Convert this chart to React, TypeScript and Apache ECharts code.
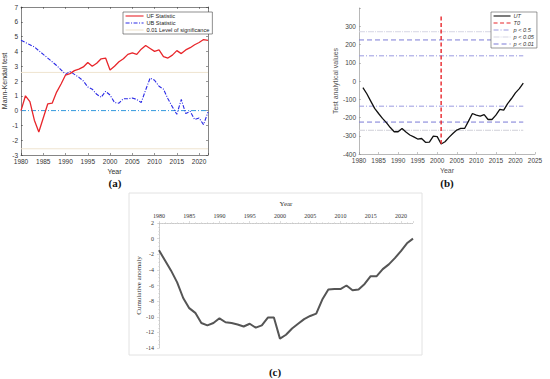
import React, { useEffect, useRef } from "react";
import * as echarts from "echarts";

// ---- (a) Mann-Kendall ----
const yearsA = [1980,1981,1982,1983,1984,1985,1986,1987,1988,1989,1990,1991,1992,1993,1994,1995,1996,1997,1998,1999,2000,2001,2002,2003,2004,2005,2006,2007,2008,2009,2010,2011,2012,2013,2014,2015,2016,2017,2018,2019,2020,2021,2022];
const ufValues = [0,1.0,0.6,-0.65,-1.45,-0.5,0.45,0.5,1.25,1.8,2.4,2.5,2.7,2.8,2.95,3.25,3.0,3.2,3.5,3.55,2.75,3.0,3.3,3.5,3.8,3.9,3.8,4.15,4.4,4.2,4.0,4.1,3.65,3.55,3.75,4.05,3.85,4.1,4.25,4.45,4.6,4.8,4.75];
const ubValues = [4.75,4.6,4.45,4.3,4.05,3.8,3.55,3.3,3.05,2.75,2.45,2.65,2.45,2.25,2.0,1.6,1.45,1.1,0.9,1.3,1.05,0.55,0.5,0.8,0.8,0.85,0.75,0.55,1.4,2.2,2.05,1.65,1.45,0.8,0.25,-0.25,0.75,-0.2,-0.05,-0.6,-0.5,-0.95,-0.1];
const levelA = 2.58;

// ---- (b) Pettitt ----
const yearsB = [1981,1982,1983,1984,1985,1986,1987,1988,1989,1990,1991,1992,1993,1994,1995,1996,1997,1998,1999,2000,2001,2002,2003,2004,2005,2006,2007,2008,2009,2010,2011,2012,2013,2014,2015,2016,2017,2018,2019,2020,2021,2022];
const utValues = [-36,-70,-110,-150,-178,-205,-228,-255,-278,-278,-260,-280,-296,-306,-318,-315,-336,-335,-302,-305,-345,-333,-309,-288,-269,-260,-260,-220,-178,-187,-193,-184,-211,-211,-187,-155,-160,-124,-96,-65,-42,-11];
const t0Year = 2001;
const t0Range = [-345, 355];
const pLevels = { p05: 138, p005: 270, p001: 225 };

// ---- (c) Cumulative anomaly ----
const yearsC = yearsA;
const cumValues = [-1.5,-2.8,-4.1,-5.6,-7.6,-8.9,-9.5,-10.8,-11.1,-10.8,-10.2,-10.7,-10.8,-11.0,-11.25,-10.9,-11.4,-11.1,-10.1,-10.1,-12.8,-12.3,-11.5,-10.9,-10.3,-9.9,-9.6,-7.8,-6.5,-6.45,-6.45,-6.0,-6.6,-6.5,-5.8,-4.8,-4.8,-3.9,-3.3,-2.5,-1.6,-0.6,0];

const pairs = (xs: number[], ys: number[]) => xs.map((x, i) => [x, ys[i]]);
const hline = (x0: number, x1: number, y: number) => [[x0, y], [x1, y]];

export default function App() {
  const ref = useRef<HTMLDivElement>(null);
  useEffect(() => {
    if (!ref.current) return;
    const chart = echarts.init(ref.current, null, { renderer: "svg" });
    const sans = "Liberation Sans, Arial, sans-serif";
    const serif = "Liberation Serif, Times New Roman, serif";
    const dashDot = [5, 2, 1, 2];
    const yearFmt = (v: number) => (v % 5 === 0 ? String(v) : "");
    const hiddenSym = { color: "rgba(0,0,0,0)", borderWidth: 0, opacity: 0 };
    const option: any = {
      animation: false,
      backgroundColor: "#fff",
      grid: [
        { left: 21, top: 7, width: 187, height: 148, outerBoundsMode: "none" },
        { left: 359, top: 8, width: 176, height: 146, outerBoundsMode: "none" },
        { left: 159, top: 223, width: 254, height: 125, outerBoundsMode: "none" },
      ],
      xAxis: [
        {
          gridIndex: 0, type: "value", min: 1980, max: 2022, interval: 5, position: "bottom",
          name: "Year", nameLocation: "middle", nameGap: 13,
          nameTextStyle: { fontSize: 7, color: "#333", fontFamily: sans },
          axisLine: { onZero: false, lineStyle: { color: "#333", width: 0.6 } },
          axisTick: { inside: true, length: 2, lineStyle: { color: "#333", width: 0.5 } },
          axisLabel: { fontSize: 6.5, color: "#333", fontFamily: sans, margin: 3, formatter: yearFmt },
          splitLine: { show: false },
        },
        {
          gridIndex: 0, type: "value", min: 1980, max: 2022, interval: 5, position: "top",
          axisLine: { onZero: false, lineStyle: { color: "#333", width: 0.6 } },
          axisTick: { inside: true, length: 2, lineStyle: { color: "#333", width: 0.5 } },
          axisLabel: { show: false }, splitLine: { show: false },
        },
        {
          gridIndex: 1, type: "value", min: 1980, max: 2025, interval: 5, position: "bottom",
          name: "Year", nameLocation: "middle", nameGap: 13,
          nameTextStyle: { fontSize: 7, color: "#555", fontFamily: sans },
          axisLine: { onZero: false, lineStyle: { color: "#888", width: 0.6 } },
          axisTick: { inside: true, length: 2, lineStyle: { color: "#888", width: 0.5 } },
          axisLabel: { fontSize: 6.5, color: "#444", fontFamily: sans, margin: 3, formatter: yearFmt },
          splitLine: { show: false },
        },
        {
          gridIndex: 2, type: "value", min: 1980, max: 2022, interval: 5, position: "top",
          name: "Year", nameLocation: "middle", nameGap: 16,
          nameTextStyle: { fontSize: 7, color: "#333", fontFamily: serif },
          axisLine: { onZero: false, lineStyle: { color: "#bbb", width: 0.8, type: "dotted" } },
          axisTick: { show: true, length: 2, lineStyle: { color: "#bbb", width: 0.5 } },
          minorTick: { show: true, splitNumber: 5, length: 1, lineStyle: { color: "#ccc", width: 0.5 } },
          axisLabel: { fontSize: 6, color: "#333", fontFamily: serif, margin: 4, formatter: yearFmt },
          splitLine: { show: false },
        },
      ],
      yAxis: [
        {
          gridIndex: 0, type: "value", min: -3, max: 7, interval: 1, position: "left",
          name: "Mann-Kendall test", nameLocation: "middle", nameGap: 9, nameRotate: 90,
          nameTextStyle: { fontSize: 7, color: "#333", fontFamily: sans },
          axisLine: { onZero: false, lineStyle: { color: "#333", width: 0.6 } },
          axisTick: { inside: true, length: 2, lineStyle: { color: "#333", width: 0.5 } },
          axisLabel: { fontSize: 6.5, color: "#333", fontFamily: sans, margin: 3 },
          splitLine: { show: false },
        },
        {
          gridIndex: 0, type: "value", min: -3, max: 7, interval: 1, position: "right",
          axisLine: { onZero: false, lineStyle: { color: "#333", width: 0.6 } },
          axisTick: { inside: true, length: 2, lineStyle: { color: "#333", width: 0.5 } },
          axisLabel: { show: false }, splitLine: { show: false },
        },
        {
          gridIndex: 1, type: "value", min: -400, max: 400, interval: 100, position: "left",
          name: "Test analytical values", nameLocation: "middle", nameGap: 17, nameRotate: 90,
          nameTextStyle: { fontSize: 7, color: "#555", fontFamily: sans },
          axisLine: { onZero: false, lineStyle: { color: "#888", width: 0.6 } },
          axisTick: { inside: true, length: 2, lineStyle: { color: "#888", width: 0.5 } },
          axisLabel: { fontSize: 6.5, color: "#444", fontFamily: sans, margin: 3,
            formatter: (v: number) => (v >= 400 ? "" : String(v)) },
          splitLine: { show: false },
        },
        {
          gridIndex: 2, type: "value", min: -14, max: 2, interval: 2, position: "left",
          name: "Cumulative anomaly", nameLocation: "middle", nameGap: 15, nameRotate: 90,
          nameTextStyle: { fontSize: 7, color: "#333", fontFamily: serif },
          axisLine: { onZero: false, lineStyle: { color: "#bbb", width: 0.8, type: "dotted" } },
          axisTick: { show: true, length: 2, lineStyle: { color: "#bbb", width: 0.5 } },
          minorTick: { show: true, splitNumber: 4, length: 1, lineStyle: { color: "#ccc", width: 0.5 } },
          axisLabel: { fontSize: 6, color: "#333", fontFamily: serif, margin: 5 },
          splitLine: { show: false },
        },
      ],
      legend: [
        {
          left: 123, top: 12, orient: "vertical", itemGap: 1, itemWidth: 18, itemHeight: 6,
          padding: [1, 3, 1, 2], borderColor: "#444", borderWidth: 0.6, backgroundColor: "#fff",
          itemStyle: hiddenSym, lineStyle: { width: 1.1 },
          textStyle: { fontSize: 5.6, color: "#222", fontFamily: sans, padding: [0, 0, 0, -2] },
          data: ["UF Statistic", "UB Statistic", "0.01 Level of significance"],
        },
        {
          left: 491, top: 12, orient: "vertical", itemGap: 1, itemWidth: 17, itemHeight: 6,
          padding: [1, 3, 1, 2], borderColor: "#555", borderWidth: 0.6, backgroundColor: "#fff",
          itemStyle: hiddenSym, lineStyle: { width: 1.1 },
          textStyle: { fontSize: 5.6, color: "#333", fontFamily: sans, fontStyle: "italic", padding: [0, 0, 0, -2] },
          data: ["UT", "T0", "p < 0.5", "p < 0.05", "p < 0.01"],
        },
      ],
      graphic: [
        { type: "rect", shape: { x: 129, y: 193, width: 293, height: 162 }, style: { fill: "none", stroke: "#e2e2e2", lineWidth: 1 } },
        { type: "text", x: 115, y: 183, style: { text: "(a)", fontSize: 11, fontWeight: "bold", fontFamily: serif, fill: "#111", align: "center", verticalAlign: "middle" } },
        { type: "text", x: 447, y: 183, style: { text: "(b)", fontSize: 11, fontWeight: "bold", fontFamily: serif, fill: "#111", align: "center", verticalAlign: "middle" } },
        { type: "text", x: 275, y: 372, style: { text: "(c)", fontSize: 11, fontWeight: "bold", fontFamily: serif, fill: "#111", align: "center", verticalAlign: "middle" } },
      ],
      series: [
        // (a)
        { name: "0.01 Level of significance", type: "line", xAxisIndex: 0, yAxisIndex: 0, symbol: "none",
          data: hline(1980, 2022, levelA), lineStyle: { color: "#efe4cf", width: 1 }, itemStyle: { color: "#efe4cf" } },
        { name: "0.01 Level of significance", type: "line", xAxisIndex: 0, yAxisIndex: 0, symbol: "none",
          data: hline(1980, 2022, -levelA), lineStyle: { color: "#efe4cf", width: 1 }, itemStyle: { color: "#efe4cf" } },
        { name: "zero", type: "line", xAxisIndex: 0, yAxisIndex: 0, symbol: "none",
          data: hline(1980, 2022, 0), lineStyle: { color: "#3399dd", width: 1, type: dashDot } },
        { name: "UB Statistic", type: "line", xAxisIndex: 0, yAxisIndex: 0, symbol: "none",
          data: pairs(yearsA, ubValues), lineStyle: { color: "#2a2ae6", width: 1.1, type: [4, 1.5, 1, 1.5] }, itemStyle: { color: "#2a2ae6" } },
        { name: "UF Statistic", type: "line", xAxisIndex: 0, yAxisIndex: 0, symbol: "none",
          data: pairs(yearsA, ufValues), lineStyle: { color: "#e8262b", width: 1.3 }, itemStyle: { color: "#e8262b" } },
        // (b)
        { name: "p < 0.05", type: "line", xAxisIndex: 2, yAxisIndex: 2, symbol: "none",
          data: hline(1980, 2022, pLevels.p005), lineStyle: { color: "#d6d6e4", width: 1, type: [6, 1, 1, 1] }, itemStyle: { color: "#c8c8dc" } },
        { name: "p < 0.05", type: "line", xAxisIndex: 2, yAxisIndex: 2, symbol: "none",
          data: hline(1980, 2022, -pLevels.p005), lineStyle: { color: "#d0d0d8", width: 1, type: [6, 1, 1, 1] }, itemStyle: { color: "#c8c8dc" } },
        { name: "p < 0.01", type: "line", xAxisIndex: 2, yAxisIndex: 2, symbol: "none",
          data: hline(1980, 2022, pLevels.p001), lineStyle: { color: "#7b7bd6", width: 1, type: [5, 3] }, itemStyle: { color: "#7b7bd6" } },
        { name: "p < 0.01", type: "line", xAxisIndex: 2, yAxisIndex: 2, symbol: "none",
          data: hline(1980, 2022, -pLevels.p001), lineStyle: { color: "#7b7bd6", width: 1, type: [5, 3] }, itemStyle: { color: "#7b7bd6" } },
        { name: "p < 0.5", type: "line", xAxisIndex: 2, yAxisIndex: 2, symbol: "none",
          data: hline(1980, 2022, pLevels.p05), lineStyle: { color: "#9a9ae0", width: 1, type: dashDot }, itemStyle: { color: "#9a9ae0" } },
        { name: "p < 0.5", type: "line", xAxisIndex: 2, yAxisIndex: 2, symbol: "none",
          data: hline(1980, 2022, -pLevels.p05), lineStyle: { color: "#9a9ae0", width: 1, type: dashDot }, itemStyle: { color: "#9a9ae0" } },
        { name: "UT", type: "line", xAxisIndex: 2, yAxisIndex: 2, symbol: "none",
          data: pairs(yearsB, utValues), lineStyle: { color: "#111", width: 1.3 }, itemStyle: { color: "#111" } },
        { name: "T0", type: "line", xAxisIndex: 2, yAxisIndex: 2, symbol: "none",
          data: [[t0Year, t0Range[0]], [t0Year, t0Range[1]]], lineStyle: { color: "#e8262b", width: 1.4, type: [4, 2.5] }, itemStyle: { color: "#e8262b" } },
        // (c)
        { name: "Cumulative anomaly", type: "line", xAxisIndex: 3, yAxisIndex: 3, symbol: "none",
          data: pairs(yearsC, cumValues), lineStyle: { color: "#555", width: 2 }, itemStyle: { color: "#555" } },
      ],
    };
    chart.setOption(option);
    return () => chart.dispose();
  }, []);
  return (
    <div
      ref={ref}
      style={{ position: "fixed", left: 0, top: 0, width: 550, height: 379, background: "#fff" }}
    />
  );
}
